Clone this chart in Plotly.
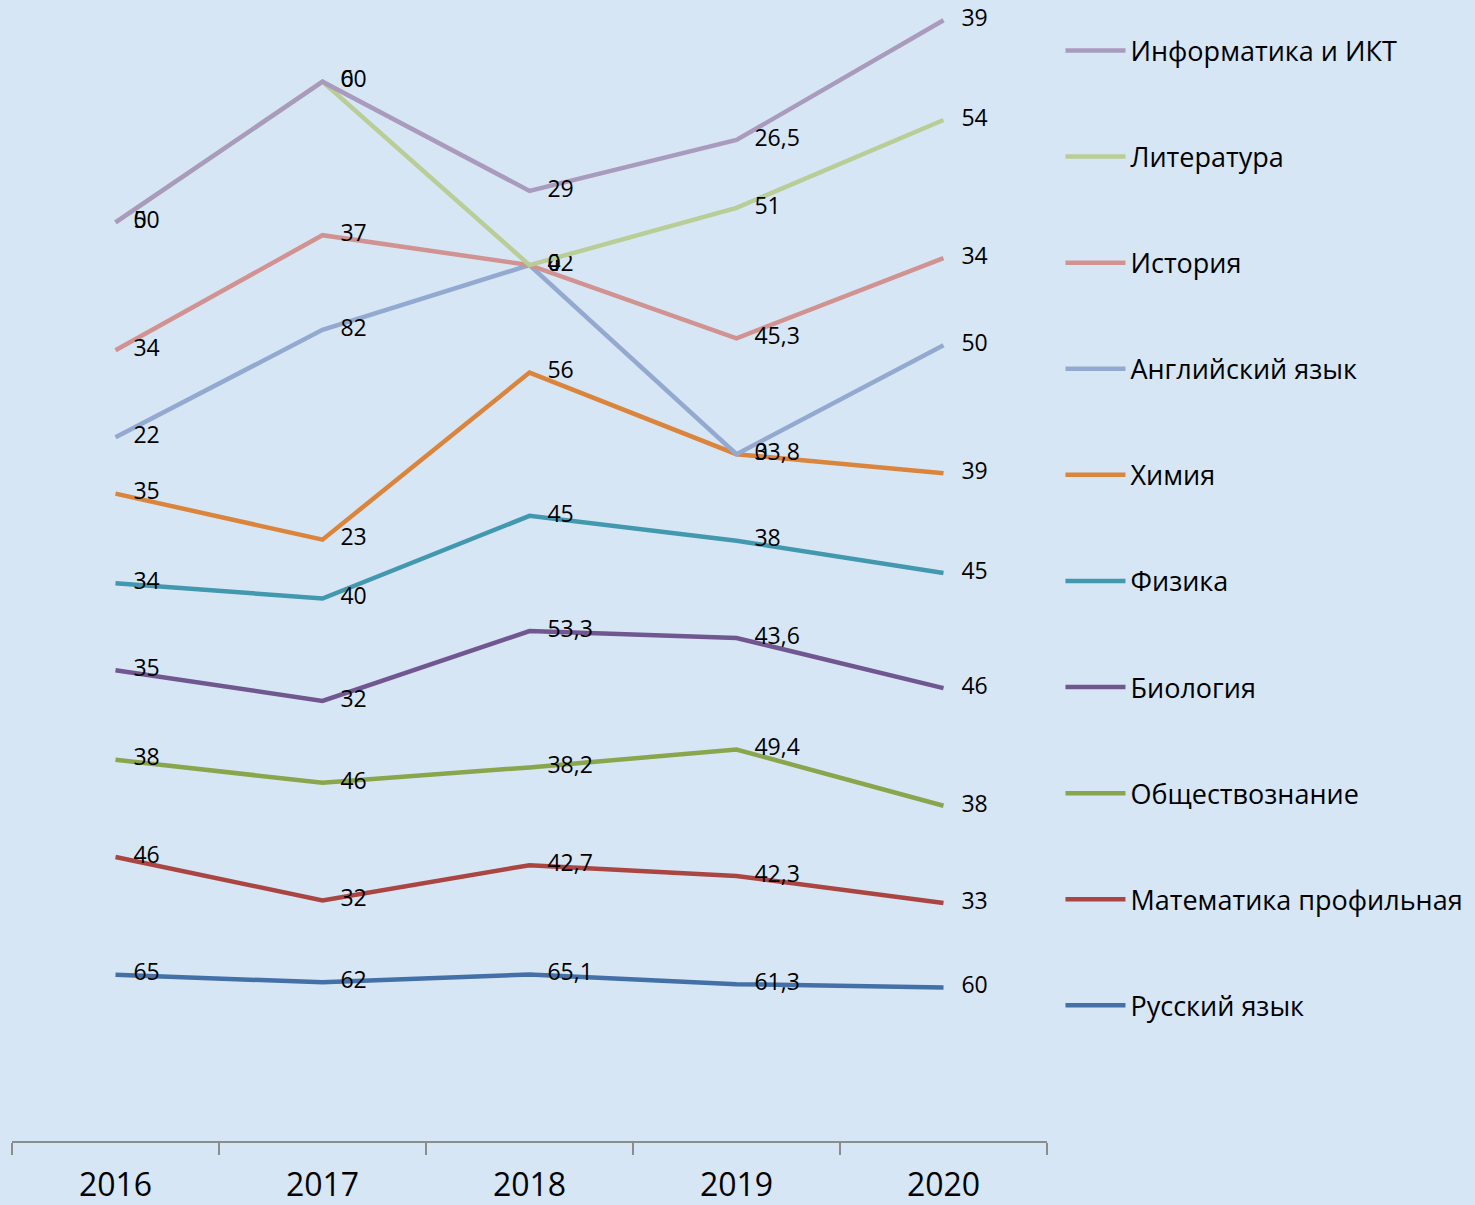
import numpy as np
import plotly.graph_objects as go

years = ["2016", "2017", "2018", "2019", "2020"]

russian = [65, 62, 65.1, 61.3, 60]
math_prof = [46, 32, 42.7, 42.3, 33]
social = [38, 46, 38.2, 49.4, 38]
biology = [35, 32, 53.3, 43.6, 46]
physics = [34, 40, 45, 38, 45]
chemistry = [35, 23, 56, 33.8, 39]
english = [22, 82, 42, 0, 50]
history = [34, 37, 0, 45.3, 34]
literature = [50, 60, 0, 51, 54]
informatics = [0, 0, 29, 26.5, 39]

series = [
    ("Русский язык", russian, "#4470a8"),
    ("Математика профильная", math_prof, "#ab4542"),
    ("Обществознание", social, "#89a64c"),
    ("Биология", biology, "#71578f"),
    ("Физика", physics, "#4298ae"),
    ("Химия", chemistry, "#db843b"),
    ("Английский язык", english, "#93a9cf"),
    ("История", history, "#d19392"),
    ("Литература", literature, "#b9cd96"),
    ("Информатика и ИКТ", informatics, "#a99bbd"),
]


def fmt(v):
    return "\u00a0\u00a0\u00a0" + ("%g" % v).replace(".", ",")


fig = go.Figure()
cum = np.zeros(len(years))
for i, (name, vals, color) in enumerate(series):
    cum = cum + np.array(vals, dtype=float)
    fig.add_trace(go.Scatter(
        x=years, y=cum.copy(), name=name, mode="lines+text",
        line=dict(color=color, width=4.5),
        text=[fmt(v) for v in vals], textposition="middle right",
        textfont=dict(family="Open Sans", size=23, color="#000000"),
        legendgroup=name, legendrank=1000 - i, cliponaxis=False,
    ))

fig.update_layout(
    width=1475, height=1205,
    margin=dict(l=12, r=428, t=10, b=64, autoexpand=False),
    paper_bgcolor="#d7e6f5", plot_bgcolor="#d7e6f5",
    showlegend=True,
    legend=dict(
        x=1.013, y=0.9855, xanchor="left", yanchor="top",
        traceorder="grouped", tracegroupgap=68,
        font=dict(family="Open Sans", size=27, color="#000000"),
        bgcolor="rgba(0,0,0,0)", itemwidth=60,
    ),
    xaxis=dict(
        type="category", range=[-0.5, 4.5], showgrid=False, automargin=False,
        showline=True, linecolor="#8c8c8c", linewidth=2,
        ticks="outside", tickson="boundaries", ticklen=12,
        tickcolor="#8c8c8c", tickwidth=2, ticklabelstandoff=15,
        tickfont=dict(family="Open Sans", size=32, color="#000000"),
        zeroline=False,
    ),
    yaxis=dict(range=[0, 442], visible=False, showgrid=False, zeroline=False,
               automargin=False),
)

fig.write_html("out.html", config={"displayModeBar": False},
               post_script="document.body.style.margin='0';")
